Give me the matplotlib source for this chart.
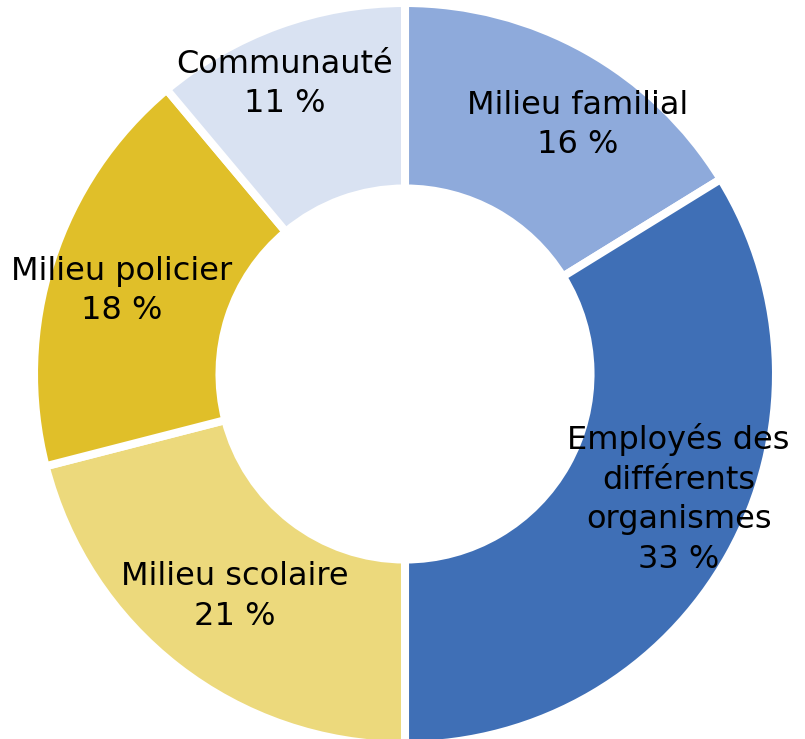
import numpy as np
import matplotlib
matplotlib.use("Agg")
import matplotlib.pyplot as plt

categories = ["Milieu familial", "Employés des\ndifférents\norganismes", "Milieu scolaire",
              "Milieu policier", "Communauté"]
shares = [16.2, 33.8, 21.0, 17.9, 11.1]
percents = [16, 33, 21, 18, 11]
colors = ["#8EAADB", "#3F6FB6", "#ECD97C", "#E0BF29", "#D9E2F2"]

# label layout: radial distance (fraction of radius) and clockwise angular nudge (deg)
label_radius = [0.817, 0.811, 0.755, 0.795, 0.846]
label_nudge = [5.6, -4.6, -0.4, -1.5, -2.6]

labels = [f"{c}\n{p} %" for c, p in zip(categories, percents)]

W, H = 805, 739
fig = plt.figure(figsize=(W / 100, H / 100), dpi=100)
ax = fig.add_axes([0, 0, 1, 1])

wedges, texts = ax.pie(shares, labels=labels, colors=colors, startangle=90, counterclock=False,
                       radius=1.0, labeldistance=0.81,
                       wedgeprops=dict(width=0.5, edgecolor="white", linewidth=5.8),
                       textprops=dict(fontsize=23, family=["DejaVu Sans"],
                                      color="black", ha="center", va="center", linespacing=1.35))

for w, t, r, d in zip(wedges, texts, label_radius, label_nudge):
    mid = np.deg2rad((w.theta1 + w.theta2) / 2 - d)
    t.set_position((r * np.cos(mid), r * np.sin(mid)))

scale = 371.0
cx, cy = 405.0, H - 374.0
ax.set_xlim(-cx / scale, (W - cx) / scale)
ax.set_ylim(-cy / scale, (H - cy) / scale)
ax.set_aspect("auto")
ax.axis("off")

fig.savefig("out.png", dpi=100)
